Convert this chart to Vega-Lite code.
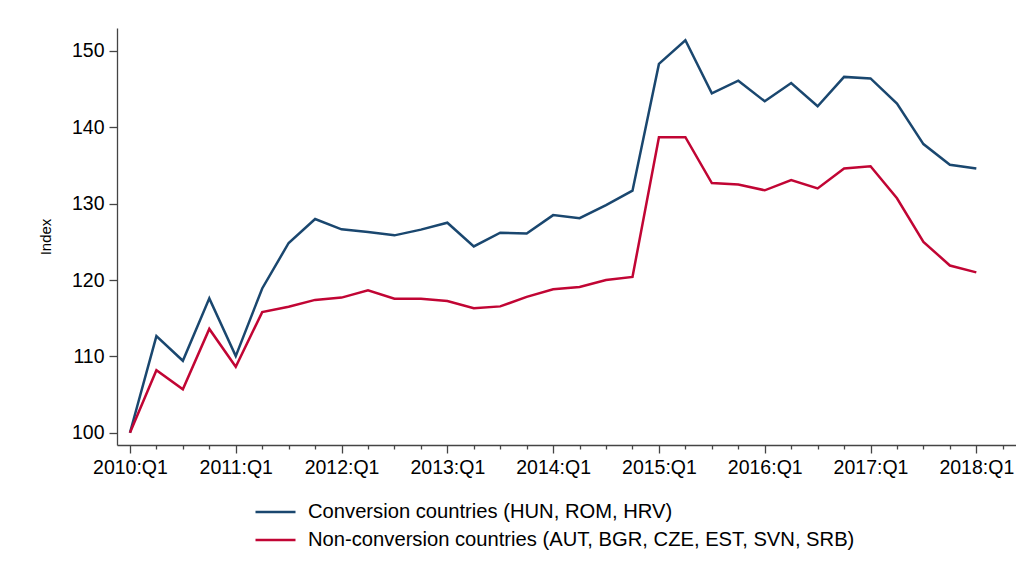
{
  "$schema": "https://vega.github.io/schema/vega-lite/v6.json",
  "width": 899,
  "height": 417,
  "autosize": {"type": "none"},
  "padding": {"left": 117, "top": 28, "right": 0, "bottom": 138},
  "config": {"view": {"stroke": null}, "font": "Liberation Sans", "background": "white"},
  "data": {"values": [
    {"q": 0, "g": "Conversion countries (HUN, ROM, HRV)", "v": 100},
    {"q": 1, "g": "Conversion countries (HUN, ROM, HRV)", "v": 112.66},
    {"q": 2, "g": "Conversion countries (HUN, ROM, HRV)", "v": 109.43},
    {"q": 3, "g": "Conversion countries (HUN, ROM, HRV)", "v": 117.6},
    {"q": 4, "g": "Conversion countries (HUN, ROM, HRV)", "v": 110.04},
    {"q": 5, "g": "Conversion countries (HUN, ROM, HRV)", "v": 118.9},
    {"q": 6, "g": "Conversion countries (HUN, ROM, HRV)", "v": 124.85},
    {"q": 7, "g": "Conversion countries (HUN, ROM, HRV)", "v": 127.99},
    {"q": 8, "g": "Conversion countries (HUN, ROM, HRV)", "v": 126.64},
    {"q": 9, "g": "Conversion countries (HUN, ROM, HRV)", "v": 126.29},
    {"q": 10, "g": "Conversion countries (HUN, ROM, HRV)", "v": 125.85},
    {"q": 11, "g": "Conversion countries (HUN, ROM, HRV)", "v": 126.6},
    {"q": 12, "g": "Conversion countries (HUN, ROM, HRV)", "v": 127.5},
    {"q": 13, "g": "Conversion countries (HUN, ROM, HRV)", "v": 124.4},
    {"q": 14, "g": "Conversion countries (HUN, ROM, HRV)", "v": 126.2},
    {"q": 15, "g": "Conversion countries (HUN, ROM, HRV)", "v": 126.1},
    {"q": 16, "g": "Conversion countries (HUN, ROM, HRV)", "v": 128.5},
    {"q": 17, "g": "Conversion countries (HUN, ROM, HRV)", "v": 128.1},
    {"q": 18, "g": "Conversion countries (HUN, ROM, HRV)", "v": 129.8},
    {"q": 19, "g": "Conversion countries (HUN, ROM, HRV)", "v": 131.7},
    {"q": 20, "g": "Conversion countries (HUN, ROM, HRV)", "v": 148.3},
    {"q": 21, "g": "Conversion countries (HUN, ROM, HRV)", "v": 151.4},
    {"q": 22, "g": "Conversion countries (HUN, ROM, HRV)", "v": 144.45},
    {"q": 23, "g": "Conversion countries (HUN, ROM, HRV)", "v": 146.1},
    {"q": 24, "g": "Conversion countries (HUN, ROM, HRV)", "v": 143.4},
    {"q": 25, "g": "Conversion countries (HUN, ROM, HRV)", "v": 145.8},
    {"q": 26, "g": "Conversion countries (HUN, ROM, HRV)", "v": 142.75},
    {"q": 27, "g": "Conversion countries (HUN, ROM, HRV)", "v": 146.6},
    {"q": 28, "g": "Conversion countries (HUN, ROM, HRV)", "v": 146.4},
    {"q": 29, "g": "Conversion countries (HUN, ROM, HRV)", "v": 143.1},
    {"q": 30, "g": "Conversion countries (HUN, ROM, HRV)", "v": 137.8},
    {"q": 31, "g": "Conversion countries (HUN, ROM, HRV)", "v": 135.1},
    {"q": 32, "g": "Conversion countries (HUN, ROM, HRV)", "v": 134.6},
    {"q": 0, "g": "Non-conversion countries (AUT, BGR, CZE, EST, SVN, SRB)", "v": 100},
    {"q": 1, "g": "Non-conversion countries (AUT, BGR, CZE, EST, SVN, SRB)", "v": 108.2},
    {"q": 2, "g": "Non-conversion countries (AUT, BGR, CZE, EST, SVN, SRB)", "v": 105.7},
    {"q": 3, "g": "Non-conversion countries (AUT, BGR, CZE, EST, SVN, SRB)", "v": 113.6},
    {"q": 4, "g": "Non-conversion countries (AUT, BGR, CZE, EST, SVN, SRB)", "v": 108.65},
    {"q": 5, "g": "Non-conversion countries (AUT, BGR, CZE, EST, SVN, SRB)", "v": 115.8},
    {"q": 6, "g": "Non-conversion countries (AUT, BGR, CZE, EST, SVN, SRB)", "v": 116.5},
    {"q": 7, "g": "Non-conversion countries (AUT, BGR, CZE, EST, SVN, SRB)", "v": 117.4},
    {"q": 8, "g": "Non-conversion countries (AUT, BGR, CZE, EST, SVN, SRB)", "v": 117.7},
    {"q": 9, "g": "Non-conversion countries (AUT, BGR, CZE, EST, SVN, SRB)", "v": 118.65},
    {"q": 10, "g": "Non-conversion countries (AUT, BGR, CZE, EST, SVN, SRB)", "v": 117.55},
    {"q": 11, "g": "Non-conversion countries (AUT, BGR, CZE, EST, SVN, SRB)", "v": 117.55},
    {"q": 12, "g": "Non-conversion countries (AUT, BGR, CZE, EST, SVN, SRB)", "v": 117.25},
    {"q": 13, "g": "Non-conversion countries (AUT, BGR, CZE, EST, SVN, SRB)", "v": 116.3},
    {"q": 14, "g": "Non-conversion countries (AUT, BGR, CZE, EST, SVN, SRB)", "v": 116.55},
    {"q": 15, "g": "Non-conversion countries (AUT, BGR, CZE, EST, SVN, SRB)", "v": 117.8},
    {"q": 16, "g": "Non-conversion countries (AUT, BGR, CZE, EST, SVN, SRB)", "v": 118.8},
    {"q": 17, "g": "Non-conversion countries (AUT, BGR, CZE, EST, SVN, SRB)", "v": 119.1},
    {"q": 18, "g": "Non-conversion countries (AUT, BGR, CZE, EST, SVN, SRB)", "v": 120.0},
    {"q": 19, "g": "Non-conversion countries (AUT, BGR, CZE, EST, SVN, SRB)", "v": 120.4},
    {"q": 20, "g": "Non-conversion countries (AUT, BGR, CZE, EST, SVN, SRB)", "v": 138.7},
    {"q": 21, "g": "Non-conversion countries (AUT, BGR, CZE, EST, SVN, SRB)", "v": 138.7},
    {"q": 22, "g": "Non-conversion countries (AUT, BGR, CZE, EST, SVN, SRB)", "v": 132.7},
    {"q": 23, "g": "Non-conversion countries (AUT, BGR, CZE, EST, SVN, SRB)", "v": 132.5},
    {"q": 24, "g": "Non-conversion countries (AUT, BGR, CZE, EST, SVN, SRB)", "v": 131.75},
    {"q": 25, "g": "Non-conversion countries (AUT, BGR, CZE, EST, SVN, SRB)", "v": 133.1},
    {"q": 26, "g": "Non-conversion countries (AUT, BGR, CZE, EST, SVN, SRB)", "v": 132.0},
    {"q": 27, "g": "Non-conversion countries (AUT, BGR, CZE, EST, SVN, SRB)", "v": 134.6},
    {"q": 28, "g": "Non-conversion countries (AUT, BGR, CZE, EST, SVN, SRB)", "v": 134.9},
    {"q": 29, "g": "Non-conversion countries (AUT, BGR, CZE, EST, SVN, SRB)", "v": 130.7},
    {"q": 30, "g": "Non-conversion countries (AUT, BGR, CZE, EST, SVN, SRB)", "v": 125.0},
    {"q": 31, "g": "Non-conversion countries (AUT, BGR, CZE, EST, SVN, SRB)", "v": 121.9},
    {"q": 32, "g": "Non-conversion countries (AUT, BGR, CZE, EST, SVN, SRB)", "v": 121.0}
  ]},
  "mark": {"type": "line", "strokeWidth": 2.5},
  "encoding": {
    "x": {
      "field": "q", "type": "quantitative",
      "scale": {"domain": [-0.49, 33.5], "nice": false, "zero": false},
      "axis": {
        "title": null, "grid": false,
        "values": [0,1,2,3,4,5,6,7,8,9,10,11,12,13,14,15,16,17,18,19,20,21,22,23,24,25,26,27,28,29,30,31,32,33],
        "labelExpr": "datum.value % 4 === 0 ? (2010 + datum.value / 4) + ':Q1' : ''",
        "tickSize": {"condition": {"test": "datum.value % 4 === 0", "value": 8}, "value": 4},
        "labelFontSize": 19.5, "labelColor": "#000", "labelFlush": false, "labelOverlap": false,
        "labelPadding": 5,
        "domainColor": "#444", "tickColor": "#444", "domainWidth": 1.3, "tickWidth": 1.3
      }
    },
    "y": {
      "field": "v", "type": "quantitative",
      "scale": {"domain": [98.4, 153], "nice": false, "zero": false},
      "axis": {
        "title": "Index", "grid": false,
        "values": [100, 110, 120, 130, 140, 150],
        "tickSize": 8, "labelPadding": 5,
        "labelFontSize": 19.5, "labelColor": "#000",
        "titleFontSize": 15, "titleFontWeight": "normal", "titleColor": "#000", "titlePadding": 18,
        "domainColor": "#444", "tickColor": "#444", "domainWidth": 1.3, "tickWidth": 1.3
      }
    },
    "color": {
      "field": "g", "type": "nominal",
      "scale": {
        "domain": ["Conversion countries (HUN, ROM, HRV)", "Non-conversion countries (AUT, BGR, CZE, EST, SVN, SRB)"],
        "range": ["#1a476f", "#c10534"]
      },
      "legend": {
        "title": null, "orient": "none", "legendX": 137, "legendY": 470,
        "direction": "vertical", "padding": 0,
        "symbolType": "stroke", "symbolSize": 1600, "symbolStrokeWidth": 2.5,
        "labelFontSize": 20.2, "labelColor": "#000", "labelOffset": 11, "labelLimit": 800,
        "clipHeight": 28, "rowPadding": 0
      }
    }
  }
}
